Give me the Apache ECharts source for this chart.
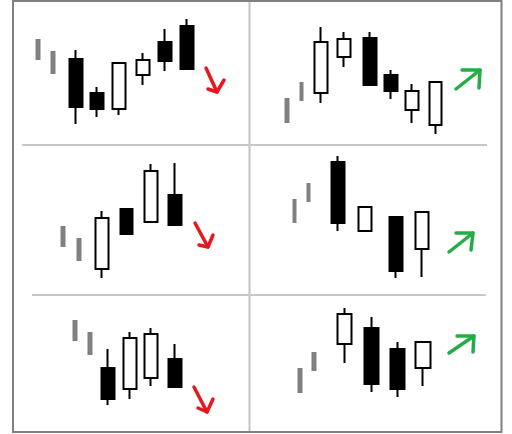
<!DOCTYPE html>
<html lang="en">
<head>
<meta charset="UTF-8">
<title>candle patterns</title>
<script src="https://cdn.jsdelivr.net/npm/echarts@6/dist/echarts.min.js"></script>
<style>
    html, body { margin: 0; padding: 0; background: #fff; }
    #chart { width: 512px; height: 434px; }
</style>
</head>
<body>
<div id="chart"></div>
<script>
// candles: [time, open, close, low, high]  (white = close > open, black = close < open)
// trend:   the two small grey bars leading into the pattern
// arrow:   [startX, startY, tipX, tipY, headAX, headAY, headBX, headBY]

// top left
var trend1 = [[25, 106, 85, 85, 106], [40, 94, 71, 71, 94]];
var candles1 = [
    [63, 86, 38, 21, 95],
    [84, 52, 36, 28, 58],
    [106, 36, 82, 30, 82],
    [130, 70, 85, 60, 92],
    [152, 103, 84, 74, 116],
    [174, 119, 76, 76, 126]
];
var arrow1 = [[193, 77, 204, 53, 195, 56, 211, 65]];

// top right
var trend2 = [[38, 47, 22, 22, 47], [52.5, 63, 44, 44, 63]];
var candles2 = [
    [72, 52, 103, 42, 118],
    [95, 88, 106, 78, 113],
    [121, 107, 60, 60, 113],
    [142, 70, 54, 46, 75],
    [163, 35, 54, 22, 61],
    [186.5, 20, 63, 11, 63]
];
var arrow2 = [[207, 56, 231, 75, 213, 75, 230, 57]];

// middle left
var trend3 = [[50, 69, 48, 48, 69], [66, 57, 34, 34, 57]];
var candles3 = [
    [89, 26, 77, 17, 84],
    [113.5, 86, 61, 61, 86],
    [138, 73, 124, 73, 131],
    [162, 100, 70, 70, 132]
];
var arrow3 = [[182, 72, 195, 48, 186, 50, 200, 60]];

// middle right
var trend4 = [[45.5, 96, 72, 72, 96], [59.5, 112, 93, 93, 112]];
var candles4 = [
    [89, 133, 72, 64, 139],
    [116, 64, 88, 64, 88],
    [147, 78, 24, 17, 78],
    [173, 46, 83, 18, 83]
];
var arrow4 = [[200, 43, 224, 62, 207, 62, 222, 45]];

// bottom left
var trend5 = [[62, 112, 91, 91, 112], [77, 100, 77, 77, 100]];
var candles5 = [
    [95, 64, 33, 27, 83],
    [117, 43, 94, 33, 100],
    [138, 54, 98, 46, 104],
    [162, 73, 45, 45, 88]
];
var arrow5 = [[181, 45, 194, 20, 185, 24, 200, 33]];

// bottom right
var trend6 = [[51, 64, 39, 39, 64], [65, 80, 61, 61, 80]];
var candles6 = [
    [95.5, 88, 118, 69, 124],
    [122.5, 104, 48, 40, 115],
    [148.5, 83, 43, 35, 90],
    [174, 64, 90, 46, 90]
];
var arrow6 = [[200, 79, 225, 96, 208, 96, 224, 80]];

var RED = '#e8161e';
var GREEN = '#25ad45';

var panels = [
    {trend: trend1, candles: candles1, arrow: arrow1, arrowColor: RED, box: [13, 0, 236, 145], barWidth: 13},
    {trend: trend2, candles: candles2, arrow: arrow2, arrowColor: GREEN, box: [249, 0, 252, 145], barWidth: 13},
    {trend: trend3, candles: candles3, arrow: arrow3, arrowColor: RED, box: [13, 145, 236, 150], barWidth: 13},
    {trend: trend4, candles: candles4, arrow: arrow4, arrowColor: GREEN, box: [249, 145, 252, 150], barWidth: 14},
    {trend: trend5, candles: candles5, arrow: arrow5, arrowColor: RED, box: [13, 295, 236, 137], barWidth: 14},
    {trend: trend6, candles: candles6, arrow: arrow6, arrowColor: GREEN, box: [249, 295, 252, 137], barWidth: 15}
];

var grids = [], xAxes = [], yAxes = [], series = [];

panels.forEach(function (p, i) {
    grids.push({left: p.box[0], top: p.box[1], width: p.box[2], height: p.box[3], show: false});
    xAxes.push({type: 'value', gridIndex: i, min: 0, max: p.box[2], show: false});
    yAxes.push({type: 'value', gridIndex: i, min: 0, max: p.box[3], show: false});

    series.push({
        type: 'candlestick',
        xAxisIndex: i,
        yAxisIndex: i,
        barWidth: 5,
        silent: true,
        itemStyle: {
            color: '#808080', color0: '#808080',
            borderColor: '#808080', borderColor0: '#808080',
            borderWidth: 0
        },
        data: p.trend
    });

    series.push({
        type: 'candlestick',
        xAxisIndex: i,
        yAxisIndex: i,
        barWidth: p.barWidth,
        silent: true,
        itemStyle: {
            color: '#ffffff', color0: '#000000',
            borderColor: '#000000', borderColor0: '#000000',
            borderWidth: 2
        },
        data: p.candles
    });

    series.push({
        type: 'custom',
        xAxisIndex: i,
        yAxisIndex: i,
        silent: true,
        encode: {x: [0, 2, 4, 6], y: [1, 3, 5, 7]},
        data: p.arrow,
        renderItem: function (params, api) {
            var s = api.coord([api.value(0), api.value(1)]);
            var t = api.coord([api.value(2), api.value(3)]);
            var a = api.coord([api.value(4), api.value(5)]);
            var b = api.coord([api.value(6), api.value(7)]);
            var st = {stroke: p.arrowColor, lineWidth: 3.5, lineCap: 'round', lineJoin: 'round', fill: 'none'};
            return {
                type: 'group',
                children: [
                    {type: 'polyline', shape: {points: [s, t]}, style: st},
                    {type: 'polyline', shape: {points: [a, t, b]}, style: st}
                ]
            };
        }
    });
});

var chart = echarts.init(document.getElementById('chart'));
chart.setOption({
    animation: false,
    backgroundColor: '#ffffff',
    grid: grids,
    xAxis: xAxes,
    yAxis: yAxes,
    series: series,
    graphic: [
        {type: 'line', shape: {x1: 249.5, y1: 1, x2: 249.5, y2: 432}, style: {stroke: '#c4c4c4', lineWidth: 2}},
        {type: 'line', shape: {x1: 22, y1: 145, x2: 487, y2: 145}, style: {stroke: '#c8c8c8', lineWidth: 2}},
        {type: 'line', shape: {x1: 32, y1: 295, x2: 486, y2: 295}, style: {stroke: '#c8c8c8', lineWidth: 2}},
        {type: 'rect', shape: {x: 13, y: 1, width: 488.5, height: 431}, style: {fill: 'none', stroke: '#808080', lineWidth: 2}}
    ]
});
</script>
</body>
</html>
